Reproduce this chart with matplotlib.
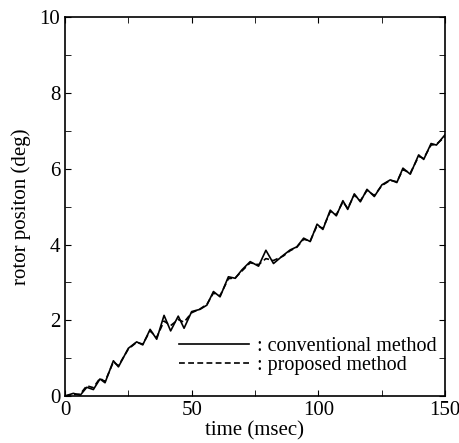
import matplotlib.pyplot as plt
from matplotlib.ticker import MultipleLocator

plt.rcParams['font.family'] = ['Liberation Serif', 'DejaVu Serif']

# conventional method (solid)
t_conv = [0, 3.3, 6, 8.6, 11.2, 13.8, 15.8, 19.1, 21.1, 25, 28.3, 30.7, 33.6, 36.2,
          39.1, 41.7, 44.7, 47, 50, 53.3, 56, 58.6, 61.2, 64.5, 67.2, 69.8, 73.1,
          76.4, 79.3, 82.3, 86.2, 88.9, 91.5, 94.2, 96.8, 99.5, 101.8, 104.7, 107.1,
          109.7, 111.6, 114.2, 116.6, 119.2, 122.1, 125.1, 128.4, 131, 133.4, 136.3,
          139.6, 141.6, 144.5, 146.6, 150]
y_conv = [0, 0.07, 0.02, 0.23, 0.17, 0.45, 0.35, 0.93, 0.77, 1.26, 1.43, 1.35, 1.76, 1.50,
          2.13, 1.72, 2.11, 1.79, 2.23, 2.29, 2.40, 2.76, 2.62, 3.15, 3.11, 3.33, 3.55,
          3.43, 3.85, 3.50, 3.72, 3.86, 3.94, 4.17, 4.08, 4.54, 4.40, 4.91, 4.76,
          5.16, 4.93, 5.34, 5.13, 5.46, 5.27, 5.58, 5.71, 5.64, 6.02, 5.86,
          6.37, 6.25, 6.67, 6.63, 6.90]

# proposed method (dashed)
t_prop = [0, 3.3, 6, 8.6, 11.2, 13.8, 15.8, 19.1, 21.1, 25, 28.3, 30.7, 33.6, 36.2,
          39.1, 41.7, 44.7, 47, 50, 53.3, 56, 58.6, 61.2, 64.5, 67.2, 69.8, 73.1,
          76.4, 79.3, 82.3, 86.2, 88.9, 91.5, 94.2, 96.8, 99.5, 101.8, 104.7, 107.1,
          109.7, 111.6, 114.2, 116.6, 119.2, 122.1, 125.1, 128.4, 131, 133.4, 136.3,
          139.6, 141.6, 144.5, 146.6, 150]
y_prop = [0, 0.04, 0.05, 0.27, 0.22, 0.47, 0.38, 0.90, 0.80, 1.24, 1.42, 1.37, 1.72, 1.55,
          1.98, 1.86, 2.02, 1.95, 2.20, 2.30, 2.42, 2.72, 2.65, 3.10, 3.12, 3.30, 3.52,
          3.47, 3.63, 3.58, 3.70, 3.84, 3.93, 4.14, 4.10, 4.50, 4.43, 4.87, 4.79,
          5.13, 4.96, 5.31, 5.16, 5.43, 5.30, 5.56, 5.70, 5.66, 5.98, 5.89,
          6.33, 6.28, 6.63, 6.65, 6.85]

fig = plt.figure(figsize=(4.59, 4.43), dpi=100)
ax = fig.add_axes([0.1416, 0.1061, 0.8279, 0.8544])

ax.plot(t_conv, y_conv, color='black', lw=1.2, label=': conventional method')
ax.plot(t_prop, y_prop, color='black', lw=1.2, ls=(0, (3.5, 2)), label=': proposed method')

ax.set_xlim(0, 150)
ax.set_ylim(0, 10)
ax.xaxis.set_major_locator(MultipleLocator(50))
ax.xaxis.set_minor_locator(MultipleLocator(25))
ax.yaxis.set_major_locator(MultipleLocator(2))
ax.yaxis.set_minor_locator(MultipleLocator(1))
ax.tick_params(which='both', direction='in', top=True, right=True, length=4, labelsize=15)
ax.tick_params(which='minor', labelbottom=False, labelleft=False)
for s in ax.spines.values():
    s.set_linewidth(1.2)

ax.set_xlabel('time (msec)', fontsize=15, labelpad=1)
ax.set_ylabel('rotor positon (deg)', fontsize=15, labelpad=6)

ax.legend(loc='lower right', frameon=False, fontsize=14.5, handlelength=3.5,
          handletextpad=0.4, labelspacing=-0.02, borderaxespad=0,
          bbox_to_anchor=(1.0, 0.035))

fig.savefig('out.png', dpi=100)
